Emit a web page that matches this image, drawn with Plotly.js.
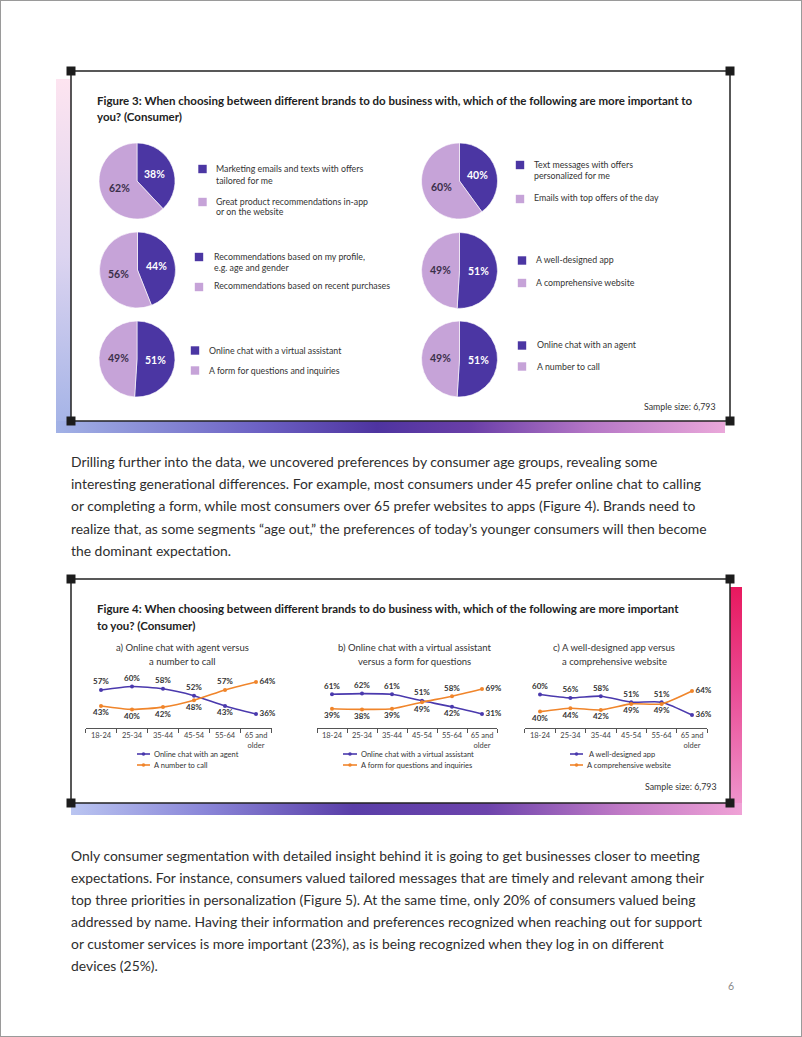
<!DOCTYPE html>
<html><head><meta charset="utf-8">
<script src="https://cdn.plot.ly/plotly-3.0.1.min.js"></script>
<style>
html,body{margin:0;padding:0;background:#fff;}
#page{position:relative;width:802px;height:1037px;overflow:hidden;background:#fff;}
.strip{position:absolute;}
#border{position:absolute;left:0;top:0;width:800px;height:1035px;border:1px solid #9a9a9a;pointer-events:none;z-index:5}
#chart{position:absolute;left:0;top:0;width:802px;height:1037px;z-index:2}
</style></head>
<body><div id="page">
<div class="strip" style="left:56px;top:79px;width:16px;height:354px;background:linear-gradient(to bottom,#fde4f0,#dcd4f0 50%,#a2b2e6)"></div>
<div class="strip" style="left:56px;top:421px;width:669px;height:12px;background:linear-gradient(to right,#a2b2e6,#6d62c4 30%,#4e34a0 48%,#6a3fa8 62%,#b577c6 80%,#eaa8da)"></div>
<div class="strip" style="left:729px;top:587px;width:13px;height:228px;background:linear-gradient(to bottom,#e8185e,#ea4c95 45%,#ef9bd1)"></div>
<div class="strip" style="left:71px;top:803px;width:671px;height:12px;background:linear-gradient(to right,#bac5f1,#8a86d8 20%,#5a3ea8 42%,#6d44ac 62%,#c07ac6 82%,#f0a2d6)"></div>
<div id="chart"></div>
<div id="border"></div>
</div>
<script>
// ---------- data ----------
const fig3Title = ['Figure 3: When choosing between different brands to do business with, which of the following are more important to', 'you? (Consumer)'];
const fig4Title = ['Figure 4: When choosing between different brands to do business with, which of the following are more important', 'to you? (Consumer)'];
const sampleSize = 'Sample size: 6,793';

const pieOptionA = [
  ['Marketing emails and texts with offers', 'tailored for me'],
  ['Text messages with offers', 'personalized for me'],
  ['Recommendations based on my profile,', 'e.g. age and gender'],
  ['A well-designed app'],
  ['Online chat with a virtual assistant'],
  ['Online chat with an agent']
];
const pieOptionB = [
  ['Great product recommendations in-app', 'or on the website'],
  ['Emails with top offers of the day'],
  ['Recommendations based on recent purchases'],
  ['A comprehensive website'],
  ['A form for questions and inquiries'],
  ['A number to call']
];
const pieShareA = [38, 40, 44, 51, 51, 51];
const pieShareB = [62, 60, 56, 49, 49, 49];

const subTitles = [
  ['a) Online chat with agent versus', 'a number to call'],
  ['b) Online chat with a virtual assistant', 'versus a form for questions'],
  ['c) A well-designed app versus', 'a comprehensive website']
];
const ageGroups = ['18-24', '25-34', '35-44', '45-54', '55-64', '65 and<br>older'];
const seriesNamesA = ['Online chat with an agent', 'Online chat with a virtual assistant', 'A well-designed app'];
const seriesNamesB = ['A number to call', 'A form for questions and inquiries', 'A comprehensive website'];
const agentChat = [57, 60, 58, 52, 43, 36];
const numberToCall = [43, 40, 42, 48, 57, 64];
const virtualAssistant = [61, 62, 61, 51, 42, 31];
const questionForm = [39, 38, 39, 49, 58, 69];
const wellDesignedApp = [60, 56, 58, 51, 51, 36];
const comprehensiveWebsite = [40, 44, 42, 49, 49, 64];

const paragraph1 = [
  'Drilling further into the data, we uncovered preferences by consumer age groups, revealing some',
  'interesting generational differences. For example, most consumers under 45 prefer online chat to calling',
  'or completing a form, while most consumers over 65 prefer websites to apps (Figure 4). Brands need to',
  'realize that, as some segments \u201cage out,\u201d the preferences of today\u2019s younger consumers will then become',
  'the dominant expectation.'
];
const paragraph2 = [
  'Only consumer segmentation with detailed insight behind it is going to get businesses closer to meeting',
  'expectations. For instance, consumers valued tailored messages that are timely and relevant among their',
  'top three priorities in personalization (Figure 5). At the same time, only 20% of consumers valued being',
  'addressed by name. Having their information and preferences recognized when reaching out for support',
  'or customer services is more important (23%), as is being recognized when they log in on different',
  'devices (25%).'
];
const pageNumber = '6';

// ---------- layout helpers ----------
const W = 802, H = 1037;
const FONT = 'Lato, "Open Sans", sans-serif';
const DARK = '#4b36a3', LIGHT = '#c6a3d8';
const LINE_A = '#4a39ad', LINE_B = '#f0852b';
const TXT = '#333333';
const X = p => p / W, Y = p => 1 - p / H;

const annotations = [], shapes = [], data = [];
const layout = {
  width: W, height: H, margin: {l: 0, r: 0, t: 0, b: 0},
  paper_bgcolor: 'rgba(0,0,0,0)', plot_bgcolor: 'rgba(0,0,0,0)',
  showlegend: false, annotations, shapes, font: {family: FONT}
};

function txt(x, y, text, size, opt) {
  const o = Object.assign({weight: 400, color: TXT, xanchor: 'left'}, opt || {});
  annotations.push({xref: 'paper', yref: 'paper', x: X(x), y: Y(y), text: text, showarrow: false,
    xanchor: o.xanchor, yanchor: 'middle', borderpad: 0,
    font: {family: FONT, size: size, color: o.color, weight: o.weight}});
}
function rect(x0, y0, x1, y1, fill, line, layer) {
  shapes.push({type: 'rect', xref: 'paper', yref: 'paper', x0: X(x0), x1: X(x1), y0: Y(y1), y1: Y(y0),
    fillcolor: fill, line: line || {width: 0}, layer: layer || 'above'});
}

// ---------- frames ----------
function frame(x0, y0, x1, y1) {
  rect(x0, y0, x1, y1, '#ffffff', {color: '#222222', width: 1.5}, 'below');
  [[x0, y0], [x1, y0], [x0, y1], [x1, y1]].forEach(([cx, cy]) => rect(cx - 4.5, cy - 4.5, cx + 4.5, cy + 4.5, '#1c1c1c'));
}
frame(71, 71, 730, 421);
frame(71, 579, 730, 803);

// ---------- figure 3 ----------
txt(96, 100, fig3Title[0], 11.5, {weight: 700, color: '#222'});
txt(96, 116, fig3Title[1], 11.5, {weight: 700, color: '#222'});

const pieCenters = [[137, 181], [459.5, 181], [137.5, 270], [459.5, 270.5], [137, 359], [459.5, 359]];
const pieR = 38;
const legendPos = [
  {sq: [202.5, 169, 202.5, 202], tx: 215, ya: [168.3, 180], yb: [201, 211.7]},
  {sq: [520, 165, 520, 199], tx: 533, ya: [164.3, 176], yb: [197.7]},
  {sq: [199, 257, 199, 287], tx: 213, ya: [256.7, 267.5], yb: [286]},
  {sq: [522, 260.5, 522, 283], tx: 535, ya: [259.3], yb: [282.3]},
  {sq: [195, 350.5, 195, 370.5], tx: 208, ya: [350], yb: [370]},
  {sq: [522, 345.5, 522, 366.5], tx: 536, ya: [344.3], yb: [366]}
];
pieCenters.forEach(([cx, cy], i) => {
  const vals = [pieShareA[i], pieShareB[i]];
  data.push({type: 'pie', values: vals, labels: ['A', 'B'], sort: false, direction: 'clockwise', rotation: 0,
    marker: {colors: [DARK, LIGHT], line: {color: '#ffffff', width: 0.6}}, textinfo: 'none', hoverinfo: 'skip',
    showlegend: false,
    domain: {x: [X(cx - pieR), X(cx + pieR)], y: [Y(cy + pieR), Y(cy - pieR)]}});
  // slice labels at mid angle of each slice
  const total = vals[0] + vals[1];
  let start = 0;
  vals.forEach((v, k) => {
    const mid = (start + v / 2) / total * 2 * Math.PI;
    start += v;
    const lx = cx + Math.sin(mid) * pieR * 0.5, ly = cy - Math.cos(mid) * pieR * 0.5;
    txt(lx, ly, v + '%', 10.5, {weight: 700, color: k === 0 ? '#ffffff' : '#3a2f4a', xanchor: 'center'});
  });
  const L = legendPos[i];
  rect(L.sq[0] - 4.2, L.sq[1] - 4.2, L.sq[0] + 4.2, L.sq[1] + 4.2, DARK);
  rect(L.sq[2] - 4.2, L.sq[3] - 4.2, L.sq[2] + 4.2, L.sq[3] + 4.2, LIGHT);
  pieOptionA[i].forEach((t, k) => txt(L.tx, L.ya[k], t, 8.8));
  pieOptionB[i].forEach((t, k) => txt(L.tx, L.yb[k], t, 8.8));
});
txt(717, 406.5, sampleSize, 8.8, {xanchor: 'right'});

// ---------- paragraphs ----------
const bodyLines1 = [461, 483, 506, 528, 550];
paragraph1.forEach((t, i) => txt(70, bodyLines1[i], t, 13.9, {color: '#2e2e2e'}));
const bodyLines2 = [855, 877, 899, 921, 943, 965];
paragraph2.forEach((t, i) => txt(70, bodyLines2[i], t, 13.9, {color: '#2e2e2e'}));
txt(731, 986, pageNumber, 10.5, {color: '#8a8a8a', xanchor: 'center'});

// ---------- figure 4 ----------
txt(96, 608, fig4Title[0], 11.5, {weight: 700, color: '#222'});
txt(96, 625, fig4Title[1], 11.5, {weight: 700, color: '#222'});
const subCenters = [182, 414, 614];
subTitles.forEach((s, i) => { txt(subCenters[i], 647, s[0], 9.5, {xanchor: 'center'}); txt(subCenters[i], 661, s[1], 9.5, {xanchor: 'center'}); });

const lineSets = [
  {a: agentChat, b: numberToCall, x0: 101, step: 31, ya: 755.1, yb: 1.143, leg: [137, 150, 153, 153]},
  {a: virtualAssistant, b: questionForm, x0: 332, step: 30, ya: 734.4, yb: 0.658, leg: [343, 357, 360, 360]},
  {a: wellDesignedApp, b: comprehensiveWebsite, x0: 540, step: 30.4, ya: 745.9, yb: 0.857, leg: [570, 583, 588, 586]}
];
const AXIS_Y = 728, TOP_Y = 660;
lineSets.forEach((s, i) => {
  const n = i === 0 ? '' : String(i + 1);
  const left = s.x0 - s.step / 2, right = s.x0 + s.step * (ageGroups.length - 0.5);
  layout['xaxis' + n] = {domain: [X(left), X(right)], anchor: 'y' + n, type: 'category', range: [-0.5, ageGroups.length - 0.5],
    showline: true, linecolor: '#555', linewidth: 1, ticks: 'outside', tickson: 'boundaries', ticklen: 4, tickcolor: '#555',
    tickangle: 0, ticklabelstandoff: 0,
    showgrid: false, zeroline: false, fixedrange: true, tickfont: {family: FONT, size: 7.5, color: '#444'}};
  layout['yaxis' + n] = {domain: [Y(AXIS_Y), Y(TOP_Y)], anchor: 'x' + n, visible: false, fixedrange: true,
    range: [(s.ya - AXIS_Y) / s.yb, (s.ya - TOP_Y) / s.yb]};
  const last = ageGroups.length - 1;
  const pos = (mine, other) => mine.map((v, k) => k === last ? 'middle right' : (v >= other[k] ? 'top center' : 'bottom center'));
  [[s.a, s.b, LINE_A], [s.b, s.a, LINE_B]].forEach(([vals, other, col]) => {
    data.push({type: 'scatter', x: ageGroups, y: vals, xaxis: 'x' + n, yaxis: 'y' + n,
      mode: 'lines+markers+text', line: {color: col, width: 1.6, shape: 'spline', smoothing: 0.6},
      marker: {color: col, size: 4}, text: vals.map(v => v + '%'), textposition: pos(vals, other),
      textfont: {family: FONT, size: 8, color: '#333', weight: 700}, cliponaxis: false, hoverinfo: 'skip'});
  });
  // legends
  const rows = [[754, LINE_A, seriesNamesA[i], s.leg[2]], [765, LINE_B, seriesNamesB[i], s.leg[3]]];
  rows.forEach(([yy, col, name, tx]) => {
    shapes.push({type: 'line', xref: 'paper', yref: 'paper', x0: X(s.leg[0]), x1: X(s.leg[1]), y0: Y(yy), y1: Y(yy), line: {color: col, width: 1.6}});
    const mx = (s.leg[0] + s.leg[1]) / 2;
    shapes.push({type: 'circle', xref: 'paper', yref: 'paper', x0: X(mx - 1.8), x1: X(mx + 1.8), y0: Y(yy + 1.8), y1: Y(yy - 1.8), fillcolor: col, line: {width: 0}});
    txt(tx, yy, name, 7.5, {color: '#333'});
  });
});
txt(718, 786.7, sampleSize, 8.8, {xanchor: 'right'});

Plotly.newPlot('chart', data, layout, {displayModeBar: false, staticPlot: true});
</script>
</body></html>
